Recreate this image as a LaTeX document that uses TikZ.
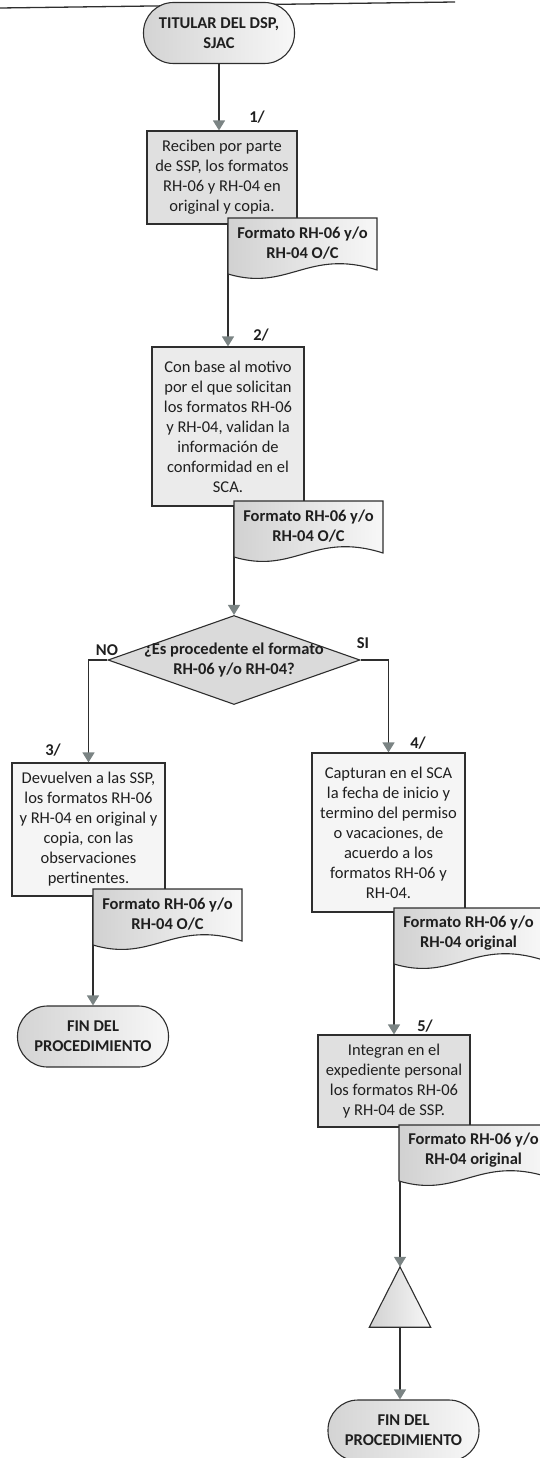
\documentclass[tikz,border=0pt]{standalone}
\usepackage{fontspec}
\setmainfont{Carlito}
\usetikzlibrary{arrows.meta,shapes.geometric}
\pgfdeclarelayer{background}
\pgfsetlayers{background,main}
\definecolor{linecol}{HTML}{2E2E2E}
\definecolor{tipcol}{HTML}{7B8484}
\definecolor{diafill}{HTML}{DADADA}
% document shape: name, left x, top y, text
\newcommand{\docshape}[4]{%
  \begin{scope}[shift={(#2,#3)}]
    \path[docfill] (0,0) -- (149,0) -- (149,52) .. controls (80,30) and (60,74) .. (0,56) -- cycle;
    \node[btxt, inner sep=0pt] (#1) at (74.5,25) {#4};
  \end{scope}}
\begin{document}
\begin{tikzpicture}[x=1pt,y=-1pt,
  txt/.style={font=\fontsize{16.5pt}{20pt}\selectfont, align=center, text=black!88},
  btxt/.style={font=\fontsize{16.5pt}{20pt}\selectfont\bfseries, align=center, text=black!88},
  stepbox/.style={txt, draw=linecol, line width=1.1pt, inner sep=0pt, rectangle},
  term/.style={btxt, draw=linecol, line width=1.1pt, inner sep=0pt, rounded corners=30pt,
    minimum width=151pt, minimum height=61pt, left color=black!17, right color=black!3},
  docfill/.style={draw=linecol, line width=1.1pt, left color=black!18, right color=black!3},
  lbl/.style={btxt, inner sep=0pt},
  conn/.style={draw=linecol, line width=1.3pt, -{Triangle[length=10pt,width=12pt,color=tipcol]}},
  plainline/.style={draw=linecol, line width=1.3pt},
]
\useasboundingbox (0,0) rectangle (539,1458);

% top rule
\coordinate (tl1) at (0,8);
\coordinate (tl2) at (455,2);
\draw[plainline] (tl1) -- (tl2);

% shapes
\node[term] (t1) at (219,33) {TITULAR DEL DSP,\\SJAC};
\node[stepbox, fill=black!12, minimum width=150pt, minimum height=93pt] (b1) at (222,177.5)
  {Reciben por parte\\de SSP, los formatos\\RH-06 y RH-04 en\\original y copia.};
\docshape{d1}{228}{218}{Formato RH-06 y/o\\RH-04 O/C}

\node[stepbox, fill=black!8, minimum width=152pt, minimum height=159pt] (b2) at (228,426.5)
  {Con base al motivo\\por el que solicitan\\los formatos RH-06\\y RH-04, validan la\\información de\\conformidad en el\\SCA.};
\docshape{d2}{234}{501}{Formato RH-06 y/o\\RH-04 O/C}

\node[diamond, draw=linecol, line width=1.1pt, inner sep=0pt, minimum width=252pt, minimum height=89pt,
  fill=diafill] (q) at (234,660) {};
\node[btxt, inner sep=0pt] (qt) at (234,660.5) {¿Es procedente el formato\\RH-06 y/o RH-04?};

\node[stepbox, fill=black!4, minimum width=153pt, minimum height=133pt] (b3) at (88.5,829.5)
  {Devuelven a las SSP,\\los formatos RH-06\\y RH-04 en original y\\copia, con las\\observaciones\\pertinentes.};
\docshape{d3}{93}{889}{Formato RH-06 y/o\\RH-04 O/C}
\node[term] (t2) at (93,1036.5) {FIN DEL\\PROCEDIMIENTO};

\node[stepbox, fill=black!4, minimum width=153pt, minimum height=159pt] (b4) at (388.5,832.5)
  {Capturan en el SCA\\la fecha de inicio y\\termino del permiso\\o vacaciones, de\\acuerdo a los\\formatos RH-06 y\\RH-04.};
\docshape{d4}{394}{908}{Formato RH-06 y/o\\RH-04 original}

\node[stepbox, fill=black!12, minimum width=152pt, minimum height=92pt] (b5) at (394,1081)
  {Integran en el\\expediente personal\\los formatos RH-06\\y RH-04 de SSP.};
\docshape{d5}{399}{1125}{Formato RH-06 y/o\\RH-04 original}

\node[inner sep=0pt, minimum width=61pt, minimum height=60pt] (tri) at (400,1297) {};
\path[docfill] (tri.north) -- (tri.south east) -- (tri.south west) -- cycle;

\node[term] (t3) at (403.5,1430.5) {FIN DEL\\PROCEDIMIENTO};

% labels
\node[lbl] (l1) at (257,117) {1/};
\node[lbl] (l2) at (261,335) {2/};
\node[lbl] (l3) at (53,750) {3/};
\node[lbl] (l4) at (418,743) {4/};
\node[lbl] (l5) at (425,1026) {5/};
\node[lbl] (lno) at (107,650) {NO};
\node[lbl] (lsi) at (363,643) {SI};

% connectors
\begin{pgfonlayer}{background}
\draw[conn] (t1.south) -- (t1.south |- b1.north);
\draw[conn] (b2.north |- b1.south) -- (b2.north);
\draw[conn] (q.north |- b2.south) -- (q.north);
\draw[conn] (q.west) -| (b3.north);
\draw[conn] (q.east) -| (b4.north);
\draw[conn] (t2.north |- b3.south) -- (t2.north);
\draw[conn] (b5.north |- b4.south) -- (b5.north);
\draw[conn] (tri.north |- b5.south) -- (tri.north);
\draw[conn] (tri.south) -- (tri.south |- t3.north);
\end{pgfonlayer}
\end{tikzpicture}
\end{document}
